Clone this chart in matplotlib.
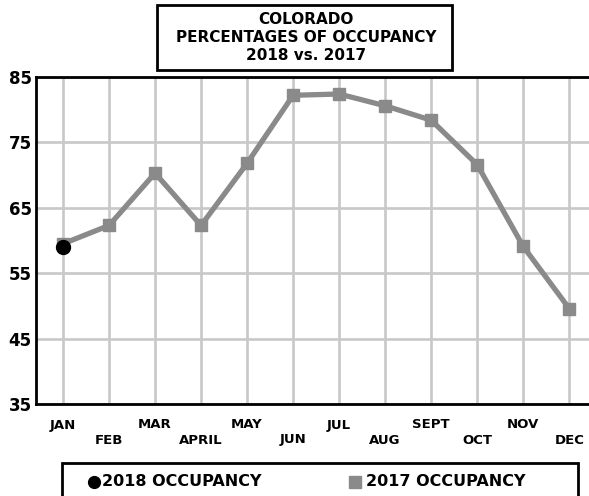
import matplotlib
matplotlib.use("Agg")
import matplotlib.pyplot as plt
from matplotlib.patches import Rectangle

months = ["JAN", "FEB", "MAR", "APRIL", "MAY", "JUN", "JUL", "AUG", "SEPT", "OCT", "NOV", "DEC"]
occ_2017 = [59.5, 62.3, 70.3, 62.3, 71.8, 82.2, 82.4, 80.6, 78.4, 71.6, 59.1, 49.6]
occ_2018 = [59.0]
yticks = [35, 45, 55, 65, 75, 85]

FONT = "DejaVu Sans"
W, H = 589, 496
fig = plt.figure(figsize=(W / 100, H / 100), dpi=100)
ax = fig.add_axes([36 / W, (H - 404) / H, 1 - 36 / W, (404 - 77) / H])

x = list(range(len(months)))
ax.plot(x, occ_2017, color="#8a8a8a", lw=3.8, marker="s", ms=9, zorder=3,
        solid_joinstyle="miter")
ax.plot(list(range(len(occ_2018))), occ_2018, color="black", lw=0, marker="o", ms=10, zorder=4)

ax.set_xlim(-0.587, 11.43)
ax.set_ylim(35, 85)
ax.set_yticks(yticks)
ax.set_yticklabels([str(v) for v in yticks], fontfamily=FONT, fontweight="bold", fontsize=12)
ax.set_xticks(x)
ax.set_xticklabels([])
ax.tick_params(axis="both", length=0, pad=3)
ax.grid(True, color="#c8c8c8", lw=1.9)
ax.set_axisbelow(True)
ax.spines["right"].set_visible(False)
for s in ["left", "top", "bottom"]:
    ax.spines[s].set_linewidth(2.0)
    ax.spines[s].set_color("black")

for i, m in enumerate(months):
    ypix = 425 if i % 2 == 0 else 440
    ax.annotate(m, xy=(i, 35), xycoords="data",
                xytext=(0, -(ypix - 404)), textcoords="offset pixels",
                ha="center", va="center", fontfamily=FONT, fontweight="bold", fontsize=9.5)

# Title box
fig.patches.append(Rectangle((157 / W, (H - 70) / H), (452 - 157) / W, 65 / H,
                             transform=fig.transFigure, fill=False, ec="black", lw=2.0))
for txt, yp in [("COLORADO", 20), ("PERCENTAGES OF OCCUPANCY", 38), ("2018 vs. 2017", 55)]:
    fig.text(306 / W, (H - yp) / H, txt, ha="center", va="center",
             fontfamily=FONT, fontweight="bold", fontsize=11)

# Legend box
fig.patches.append(Rectangle((62 / W, (H - 500) / H), (578 - 62) / W, 37 / H,
                             transform=fig.transFigure, fill=False, ec="black", lw=2.0))
fig.text(102 / W, (H - 482) / H, "2018 OCCUPANCY", ha="left", va="center",
         fontfamily=FONT, fontweight="bold", fontsize=11.5)
fig.text(366 / W, (H - 482) / H, "2017 OCCUPANCY", ha="left", va="center",
         fontfamily=FONT, fontweight="bold", fontsize=11.5)
fig.lines.append(plt.Line2D([94 / W], [(H - 482) / H], transform=fig.transFigure,
                            marker="o", color="black", ms=8.5, lw=0))
fig.lines.append(plt.Line2D([355 / W], [(H - 482) / H], transform=fig.transFigure,
                            marker="s", color="#8a8a8a", ms=8.5, lw=0))

fig.savefig("out.png", dpi=100)
